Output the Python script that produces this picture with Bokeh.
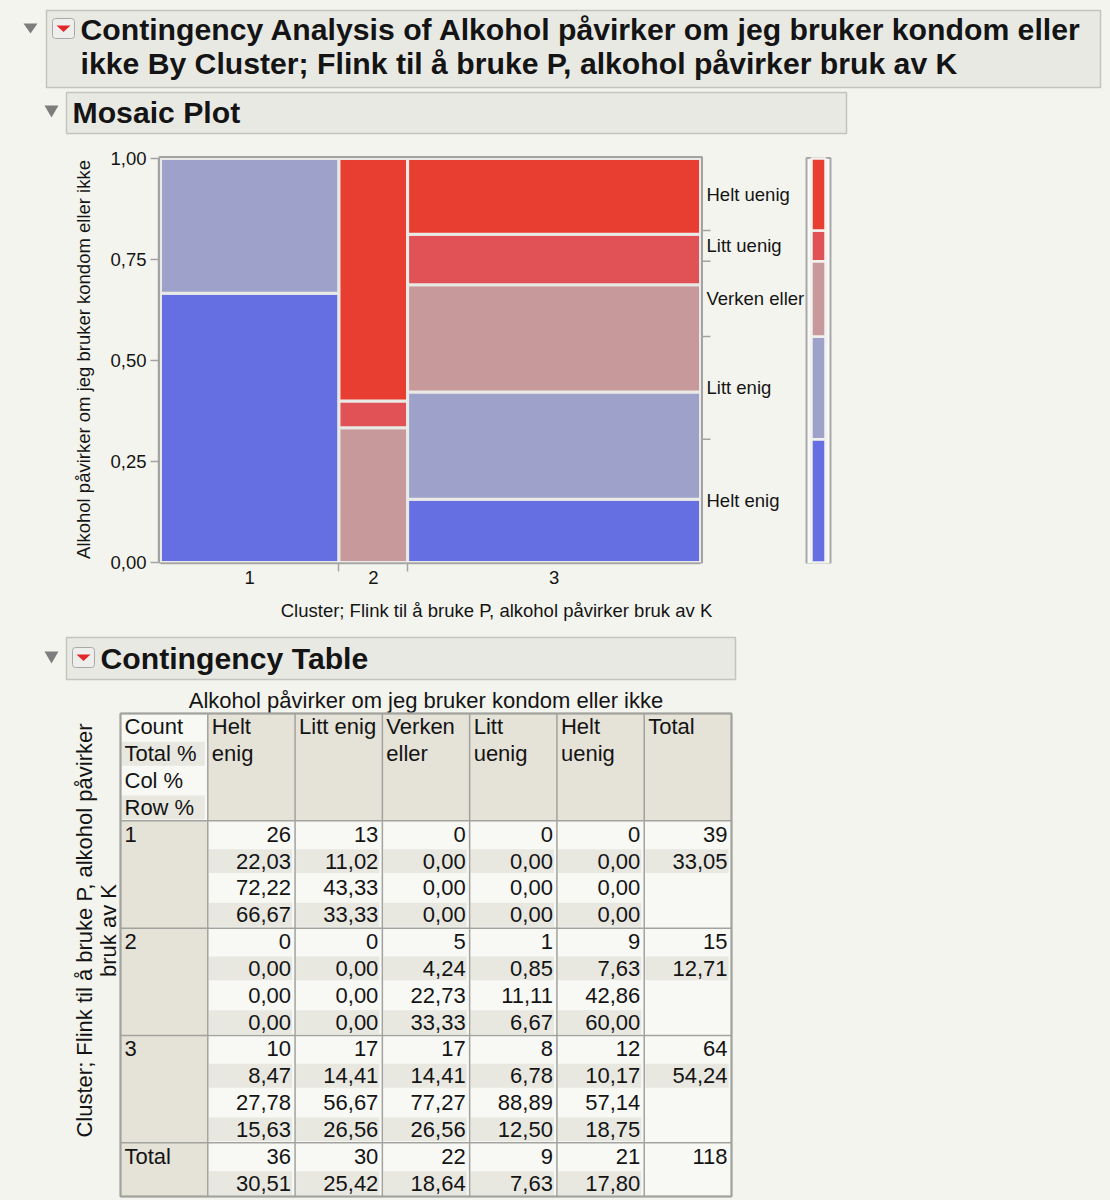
import math
from bokeh.plotting import figure
from bokeh.models import Range1d, FixedTicker, CustomJSTickFormatter
from bokeh.embed import file_html
from bokeh.resources import INLINE
from bokeh.core.properties import value

# ---------------- data ----------------
title_lines = ["Contingency Analysis of Alkohol påvirker om jeg bruker kondom eller",
               "ikke By Cluster; Flink til å bruke P, alkohol påvirker bruk av K"]
y_title = "Alkohol påvirker om jeg bruker kondom eller ikke"
x_title = "Cluster; Flink til å bruke P, alkohol påvirker bruk av K"
clusters = ["1", "2", "3"]
levels = ["Helt enig", "Litt enig", "Verken eller", "Litt uenig", "Helt uenig"]
col_headers = [["Helt", "enig"], ["Litt enig"], ["Verken", "eller"], ["Litt", "uenig"], ["Helt", "uenig"], ["Total"]]
stat_labels = ["Count", "Total %", "Col %", "Row %"]
counts = [[26, 13, 0, 0, 0], [0, 0, 5, 1, 9], [10, 17, 17, 8, 12]]
total_pct = [[22.03, 11.02, 0.00, 0.00, 0.00], [0.00, 0.00, 4.24, 0.85, 7.63], [8.47, 14.41, 14.41, 6.78, 10.17]]
col_pct = [[72.22, 43.33, 0.00, 0.00, 0.00], [0.00, 0.00, 22.73, 11.11, 42.86], [27.78, 56.67, 77.27, 88.89, 57.14]]
row_pct = [[66.67, 33.33, 0.00, 0.00, 0.00], [0.00, 0.00, 33.33, 6.67, 60.00], [15.63, 26.56, 26.56, 12.50, 18.75]]
row_totals = [39, 15, 64]
row_total_pct = [33.05, 12.71, 54.24]
col_totals = [36, 30, 22, 9, 21]
col_total_pct = [30.51, 25.42, 18.64, 7.63, 17.80]
grand_total = 118
y_ticks = [0.0, 0.25, 0.5, 0.75, 1.0]

# ---------------- style ----------------
BG = "#f4f4ef"
BOX_FILL = "#e9e9e4"
BOX_LINE = "#c4c4bf"
GRAY = "#a3a3a3"
TXT = "#141414"
FONT = value("Liberation Sans")
HEAD_SIZE = "30.2px"
palette = ["#666fe2", "#9ea2ca", "#c8999a", "#e05256", "#e83e32"]
W = 1110


def fmt(v):
    return f"{v:.2f}".replace(".", ",")


def px_fig(y0, h):
    p = figure(width=W, height=h, x_range=Range1d(0, W), y_range=Range1d(y0 + h, y0),
               x_axis_location=None, y_axis_location=None, toolbar_location=None,
               output_backend="svg", min_border=0, background_fill_color=BG,
               border_fill_color=BG, outline_line_color=None)
    p.xgrid.visible = False
    p.ygrid.visible = False
    return p


def section_header(p, box, tri, icon, text_xy, text):
    l, r, t, b = box
    p.quad(left=l, right=r, top=t, bottom=b, fill_color=BOX_FILL, line_color=BOX_LINE, line_width=1.5)
    tl, tr, tt, tb = tri
    p.patch([tl, tr, (tl + tr) / 2], [tt, tt, tb], fill_color="#7d7d7d", line_color=None)
    if icon is not None:
        il, ir, it, ib = icon
        p.quad(left=il, right=ir, top=it, bottom=ib, fill_color="#eeeeec", line_color="#a9a9a9",
               line_width=1, border_radius=3)
        cx = (il + ir) / 2
        cy = (it + ib) / 2
        p.patch([cx - 7, cx + 7, cx], [cy - 3, cy - 3, cy + 3.5], fill_color="#e3262a", line_color=None)
    p.text(x=[text_xy[0]], y=[text_xy[1]], text=[text], text_font=FONT, text_font_style="bold",
           text_font_size=HEAD_SIZE, text_baseline="alphabetic", text_color=TXT)


# ---------------- header figure ----------------
A_TOP, A_H = 0, 136
pA = px_fig(A_TOP, A_H)
pA.quad(left=46, right=1100, top=10, bottom=87, fill_color=BOX_FILL, line_color=BOX_LINE, line_width=1.5)
pA.patch([23, 37, 30], [23, 23, 33], fill_color="#7d7d7d", line_color=None)
pA.quad(left=52, right=74, top=18, bottom=38, fill_color="#eeeeec", line_color="#a9a9a9", line_width=1,
        border_radius=3)
pA.patch([56, 70, 63], [25, 25, 31.5], fill_color="#e3262a", line_color=None)
pA.text(x=[80, 80], y=[29, 63], text=title_lines, text_font=FONT, text_font_style="bold",
        text_font_size=HEAD_SIZE, text_baseline="alphabetic", text_color=TXT)
section_header(pA, (66, 846, 92, 133), (44, 58, 105, 117), None, (72, 112), "Mosaic Plot")

# ---------------- mosaic figure ----------------
MX0, SX = 160, 540.0
MY0, SY = 562, 404.0
FL, FR, FT, FB = 158, 834, 155, 563
B_TOP, B_H = 136, 494
pB = figure(width=W, height=B_H,
            x_range=Range1d((FL - MX0) / SX, (FR - MX0) / SX),
            y_range=Range1d((MY0 - FB) / SY, (MY0 - FT) / SY),
            toolbar_location=None, output_backend="svg",
            min_border_left=FL, min_border_right=W - FR,
            min_border_top=FT - B_TOP, min_border_bottom=B_TOP + B_H - FB,
            background_fill_color=BG, border_fill_color=BG, outline_line_color=None)
pB.grid.visible = False

left, right, bottom, top, colors = [], [], [], [], []
cx = 0.0
for i in range(len(clusters)):
    w = row_totals[i] / grand_total
    cy = 0.0
    for j in range(len(levels)):
        h = row_pct[i][j] / 100.0
        if h > 0:
            left.append(cx); right.append(cx + w); bottom.append(cy); top.append(cy + h)
            colors.append(palette[j])
        cy += h
    cx += w
pB.quad(left=left, right=right, bottom=bottom, top=top, fill_color=colors,
        line_color="#e9e9e6", line_width=3)
pB.quad(left=[-1.5 / SX], right=[1 + 1.5 / SX], bottom=[-1 / SY], top=[1 + 1.5 / SY],
        fill_color=None, line_color=GRAY, line_width=2)

# marginal distribution
marg = [v / 100.0 for v in col_total_pct]
cum = []
s = 0.0
for v in marg:
    cum.append((s, s + v))
    s += v
mids = [(a + b) / 2 for a, b in cum]
bounds_r = [b for a, b in cum[:-1]]
pB.segment(x0=[1 + 1.5 / SX] * len(bounds_r), x1=[1 + 10 / SX] * len(bounds_r), y0=bounds_r, y1=bounds_r,
           line_color=GRAY, line_width=1.5)
pB.text(x=[1 + 6 / SX] * len(levels), y=mids, text=levels, text_font=FONT, text_font_size="18.5px",
        text_baseline="middle", text_align="left", text_color=TXT)
pB.quad(left=[(806 - MX0) / SX], right=[(830 - MX0) / SX], bottom=[-1.5 / SY], top=[1 + 0.5 / SY],
        fill_color="#f8f8f6", line_color="#a8a8a8", line_width=2)
pB.quad(left=[(811 - MX0) / SX] * 5, right=[(825 - MX0) / SX] * 5,
        bottom=[a for a, b in cum], top=[b for a, b in cum], fill_color=palette,
        line_color="#f1f1ee", line_width=2.5)

# axes
cl_bounds = []
s = 0.0
cl_mids = []
for n in row_totals:
    w = n / grand_total
    cl_mids.append(s + w / 2)
    s += w
    cl_bounds.append(s)
cl_bounds = cl_bounds[:-1]

for ax in (pB.xaxis[0], pB.yaxis[0]):
    ax.axis_line_color = GRAY
    ax.axis_line_width = 1.5
    ax.major_tick_line_color = GRAY
    ax.major_tick_line_width = 1.5
    ax.minor_tick_line_color = GRAY
    ax.minor_tick_line_width = 1.5
    ax.major_label_text_font = "Liberation Sans"
    ax.major_label_text_font_size = "18.5px"
    ax.major_label_text_color = TXT
    ax.axis_label_text_font = "Liberation Sans"
    ax.axis_label_text_font_size = "18.5px"
    ax.axis_label_text_font_style = "normal"
    ax.axis_label_text_color = TXT
    ax.bounds = (0, 1)

ya = pB.yaxis[0]
ya.ticker = FixedTicker(ticks=y_ticks, minor_ticks=[])
ya.formatter = CustomJSTickFormatter(code="return tick.toFixed(2).replace('.', ',');")
ya.major_tick_out = 8
ya.major_tick_in = 0
ya.major_label_standoff = 4
ya.axis_label = y_title
ya.axis_label_standoff = 13

xa = pB.xaxis[0]
xa.ticker = FixedTicker(ticks=cl_mids, minor_ticks=cl_bounds)
xa.formatter = CustomJSTickFormatter(args=dict(labels=clusters), code="return labels[index];")
xa.major_tick_out = 0
xa.major_tick_in = 0
xa.major_tick_line_color = None
xa.minor_tick_out = 8
xa.minor_tick_in = 0
xa.major_label_standoff = -1
xa.axis_label = x_title
xa.axis_label_standoff = 13

# ---------------- contingency table figure ----------------
D_TOP, D_H = 630, 568
pD = px_fig(D_TOP, D_H)
section_header(pD, (66, 735, 637, 679), (44, 58, 651, 663), (72, 94, 647, 667), (100, 657.5), "Contingency Table")

TX0, TX1 = 120, 731
NCOL = 7
CW = (TX1 - TX0) / NCOL
NSUB = 4 + 4 * len(clusters) + 2
TY0, TY1 = 713, 1196
RH = (TY1 - TY0) / NSUB
pD.extra_x_ranges = {"t": Range1d((0 - TX0) / CW, (W - TX0) / CW)}
pD.extra_y_ranges = {"t": Range1d((D_TOP + D_H - TY0) / RH, (D_TOP - TY0) / RH)}
T = dict(x_range_name="t", y_range_name="t")

pD.text(x=[(TX0 + TX1) / 2], y=[699.5], text=[y_title], text_font=FONT, text_font_size="22px",
        text_align="center", text_baseline="alphabetic", text_color=TXT)
row_title = ["Cluster; Flink til å bruke P, alkohol påvirker", "bruk av K"]
pD.text(x=[84, 108], y=[930, 930], text=row_title, angle=math.pi / 2, text_font=FONT, text_font_size="22px",
        text_align="center", text_baseline="middle", text_color=TXT)

# backgrounds
pD.quad(left=[0], right=[NCOL], top=[0], bottom=[NSUB], fill_color="#f8f8f5", line_color=None, **T)
pD.quad(left=[1], right=[NCOL], top=[0], bottom=[4], fill_color="#e5e2d7", line_color=None, **T)
pD.quad(left=[0], right=[1], top=[4], bottom=[NSUB], fill_color="#e5e2d7", line_color=None, **T)

bl, br, bt, bb = [], [], [], []


def band(c, r):
    bl.append(c + 1 / CW); br.append(c + 1 - 3 / CW); bt.append(r + 1.5 / RH); bb.append(r + 1 - 1.5 / RH)


band(0, 1); band(0, 3)
for k in range(len(clusters)):
    r0 = 4 + 4 * k
    for c in range(1, 6):
        band(c, r0 + 1); band(c, r0 + 3)
    band(6, r0 + 1)
for c in range(1, 6):
    band(c, NSUB - 1)
pD.quad(left=bl, right=br, top=bt, bottom=bb, fill_color="#e8e8e1", line_color=None, **T)

# grid lines
vx = list(range(NCOL + 1))
pD.segment(x0=vx, x1=vx, y0=[0] * len(vx), y1=[NSUB] * len(vx), line_color="#a2a29e", line_width=1.5, **T)
hy = [0, 4] + [4 + 4 * (k + 1) for k in range(len(clusters))] + [NSUB]
pD.segment(x0=[0] * len(hy), x1=[NCOL] * len(hy), y0=hy, y1=hy, line_color="#a2a29e", line_width=1.5, **T)
pD.quad(left=[0], right=[NCOL], top=[0], bottom=[NSUB], fill_color=None, line_color="#a2a29e", line_width=2, **T)

# left-aligned texts
lx, ly, lt = [], [], []
for r, s_ in enumerate(stat_labels):
    lx.append(0); ly.append(r + 0.5); lt.append(s_)
for c, lines in enumerate(col_headers):
    for r, s_ in enumerate(lines):
        lx.append(c + 1); ly.append(r + 0.5); lt.append(s_)
for k, name in enumerate(clusters + ["Total"]):
    lx.append(0); ly.append(4 + 4 * k + 0.5); lt.append(name)
pD.text(x=lx, y=ly, text=lt, x_offset=4, text_font=FONT, text_font_size="22px", text_align="left",
        text_baseline="middle", text_color=TXT, **T)

# right-aligned numbers
nx, ny, nt = [], [], []
for k in range(len(clusters)):
    r0 = 4 + 4 * k
    for c in range(5):
        for q, v in enumerate([str(counts[k][c]), fmt(total_pct[k][c]), fmt(col_pct[k][c]), fmt(row_pct[k][c])]):
            nx.append(c + 2); ny.append(r0 + q + 0.5); nt.append(v)
    nx.append(7); ny.append(r0 + 0.5); nt.append(str(row_totals[k]))
    nx.append(7); ny.append(r0 + 1.5); nt.append(fmt(row_total_pct[k]))
for c in range(5):
    nx.append(c + 2); ny.append(NSUB - 1.5); nt.append(str(col_totals[c]))
    nx.append(c + 2); ny.append(NSUB - 0.5); nt.append(fmt(col_total_pct[c]))
nx.append(7); ny.append(NSUB - 1.5); nt.append(str(grand_total))
pD.text(x=nx, y=ny, text=nt, x_offset=-4, text_font=FONT, text_font_size="22px", text_align="right",
        text_baseline="middle", text_color=TXT, **T)

TEMPLATE = "{% block preamble %}<style>html, body { background-color: #f4f4ef; }</style>{% endblock %}"
open("out.html", "w").write(file_html([pA, pB, pD], INLINE, template=TEMPLATE))
